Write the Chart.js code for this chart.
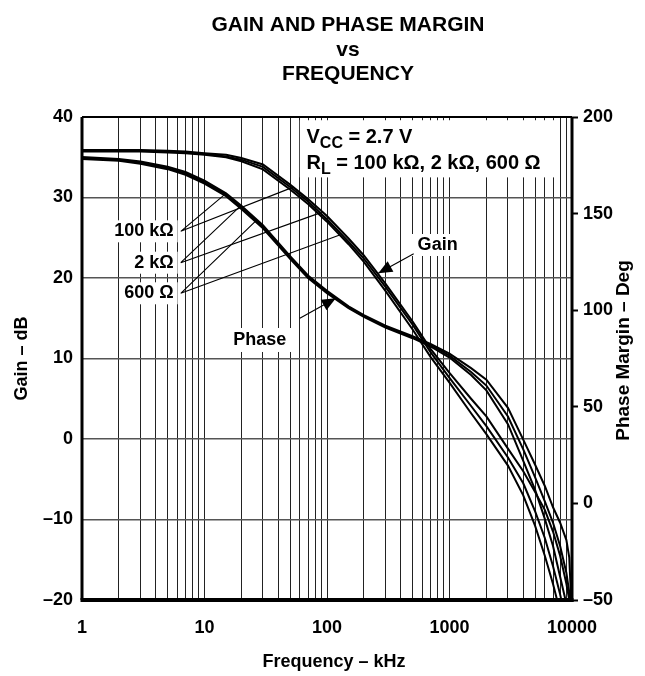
<!DOCTYPE html>
<html>
<head>
<meta charset="utf-8">
<title>Gain and Phase Margin vs Frequency</title>
<script src="https://cdn.jsdelivr.net/npm/chart.js@4.4.1/dist/chart.umd.min.js"></script>
<style>
html,body{margin:0;padding:0;background:#fff}
canvas{display:block}
</style>
</head>
<body>
<canvas id="gpChart" width="645" height="676"></canvas>
<script>
// ── Data ──
const freqKHz   = [1, 2, 3, 5, 7, 10, 15, 20, 30, 50, 70, 100, 150, 200, 300, 500, 700, 1000, 1500, 2000, 3000, 4000, 5000, 6000, 7000, 8000, 9000, 9500, 10000];

// gain, dB (left axis)
const gain100k  = [35.9, 35.9, 35.9, 35.8, 35.7, 35.5, 35.3, 34.9, 34.1, 31.6, 29.8, 27.7, 24.9, 22.8, 19.3, 14.6, 11.2, 8.2, 5.0, 2.8, -1.2, -4.0, -6.6, -8.8, -11.5, -14.5, -18.0, -20.0, -22.0];
const gain2k    = [35.8, 35.8, 35.8, 35.7, 35.6, 35.4, 35.1, 34.7, 33.8, 31.3, 29.5, 27.3, 24.5, 22.4, 18.9, 14.2, 10.8, 7.6, 4.1, 1.6, -2.3, -5.5, -9.0, -12.3, -15.8, -19.3, -22.8, -24.5, -26.0];
const gain600   = [35.7, 35.7, 35.7, 35.6, 35.5, 35.3, 35.0, 34.5, 33.5, 31.0, 29.2, 27.0, 24.2, 22.0, 18.4, 13.6, 10.2, 7.0, 3.2, 0.6, -3.3, -7.0, -10.8, -14.5, -18.0, -21.5, -25.0, -27.0, -29.0];

// phase margin, deg (right axis)
const phase100k = [179.3, 178.3, 177.0, 174.3, 171.5, 167.0, 160.5, 154.0, 144.0, 128.0, 118.0, 110.0, 102.0, 97.5, 92.0, 86.5, 82.5, 77.5, 70.0, 64.0, 49.5, 33.0, 20.0, 9.0, -2.0, -10.0, -19.0, -28.0, -60.0];
const phase2k   = [178.8, 177.8, 176.4, 173.6, 170.8, 166.2, 159.8, 153.2, 143.2, 127.3, 117.3, 109.4, 101.5, 97.0, 91.5, 86.0, 82.0, 76.5, 68.0, 61.0, 45.0, 28.0, 13.5, 1.0, -10.0, -22.0, -36.0, -46.0, -60.0];
const phase600  = [178.3, 177.3, 175.8, 173.0, 170.1, 165.5, 159.0, 152.4, 142.4, 126.6, 116.6, 108.8, 101.0, 96.5, 91.0, 85.5, 81.3, 75.5, 66.5, 58.5, 41.0, 22.0, 7.0, -8.0, -22.0, -38.0, -52.0, -58.0, -65.0];

// axes
const xTickLabels = [1, 10, 100, 1000, 10000];
const gainRange   = [-20, 40];
const phaseRange  = [-50, 200];

const titleLines = ['GAIN AND PHASE MARGIN', 'vs', 'FREQUENCY'];

// ── Helpers ──
const FONT = "'Liberation Sans', Arial, Helvetica, sans-serif";
const pts = arr => freqKHz.map((f,i)=>({x:f,y:arr[i]}));
function valueAt(arr,f){
  for(let i=0;i<freqKHz.length-1;i++){
    if(f>=freqKHz[i]&&f<=freqKHz[i+1]){
      const t=(Math.log(f)-Math.log(freqKHz[i]))/(Math.log(freqKHz[i+1])-Math.log(freqKHz[i]));
      return arr[i]+t*(arr[i+1]-arr[i]);
    }
  }
  return arr[arr.length-1];
}
// every 1..9 x decade for the vertical grid
const xGrid=[];
for(let d=1;d<10000;d*=10){ for(let m=1;m<10;m++) xGrid.push(m*d); }
xGrid.push(10000);

// annotation anchors (freq kHz / gain dB)
const leaders=[
  {label:'100 k\u03A9', dB:25.8, pF:15,  pArr:phase100k, gF:53,  gArr:gain100k},
  {label:'2 k\u03A9',   dB:21.9, pF:19.5,pArr:phase2k,   gF:88,  gArr:gain2k},
  {label:'600 \u03A9',  dB:18.1, pF:26,  pArr:phase600,  gF:127, gArr:gain600},
];

function arrow(ctx,x1,y1,x2,y2){
  ctx.beginPath();ctx.moveTo(x1,y1);ctx.lineTo(x2,y2);ctx.stroke();
  const a=Math.atan2(y2-y1,x2-x1),L=14,W=6;
  const bx=x2-L*Math.cos(a),by=y2-L*Math.sin(a);
  ctx.beginPath();
  ctx.moveTo(x2,y2);
  ctx.lineTo(bx+W*Math.sin(a),by-W*Math.cos(a));
  ctx.lineTo(bx-W*Math.sin(a),by+W*Math.cos(a));
  ctx.closePath();ctx.fill();
}

function subText(ctx,x,y,parts){
  // parts: [text, isSub]
  let cx=x;
  parts.forEach(([t,sub])=>{
    ctx.font=sub?'bold 16px '+FONT:'bold 20px '+FONT;
    ctx.fillText(t,cx,sub?y+5:y);
    cx+=ctx.measureText(t).width;
  });
}

const annotPlugin={
  id:'annot',
  beforeDatasetsDraw(chart){
    const {ctx,scales:{x,y}}=chart;
    ctx.save();
    ctx.fillStyle='#fff';
    // condition box
    ctx.fillRect(x.getPixelForValue(60),y.getPixelForValue(39.6),x.getPixelForValue(7900)-x.getPixelForValue(60),y.getPixelForValue(32.5)-y.getPixelForValue(39.6));
    // label boxes
    ctx.font='bold 18px '+FONT;
    leaders.forEach(l=>{
      const w=ctx.measureText(l.label).width;
      const rx=x.getPixelForValue(5.6),cy=y.getPixelForValue(l.dB);
      ctx.fillRect(rx-w-4,cy-11,w+8,22);
    });
    const gx=x.getPixelForValue(800),gy=y.getPixelForValue(24.1);
    ctx.fillRect(gx-26,gy-11,52,22);
    const px=x.getPixelForValue(28.3),py=y.getPixelForValue(12.3);
    ctx.fillRect(px-34,py-12,68,24);
    ctx.restore();
  },
  afterDatasetsDraw(chart){
    const {ctx,scales:{x,y,y2}}=chart;
    ctx.save();
    ctx.strokeStyle='#000';ctx.fillStyle='#000';ctx.lineWidth=1.1;
    // leader lines from load labels to both curve groups
    leaders.forEach(l=>{
      const sx=x.getPixelForValue(6.4),sy=y.getPixelForValue(l.dB);
      const p=[x.getPixelForValue(l.pF),y2.getPixelForValue(valueAt(l.pArr,l.pF))];
      const g=[x.getPixelForValue(l.gF),y.getPixelForValue(valueAt(l.gArr,l.gF))];
      ctx.beginPath();
      ctx.moveTo(sx,sy);ctx.lineTo(p[0],p[1]);
      ctx.moveTo(sx,sy);ctx.lineTo(g[0],g[1]);
      ctx.stroke();
    });
    // Gain / Phase arrows
    arrow(ctx,x.getPixelForValue(510),y.getPixelForValue(23.0),x.getPixelForValue(262),y.getPixelForValue(valueAt(gain100k,262))-1);
    arrow(ctx,x.getPixelForValue(60),y.getPixelForValue(15.0),x.getPixelForValue(118),y2.getPixelForValue(valueAt(phase100k,118))+1);

    // texts
    ctx.textBaseline='middle';
    ctx.font='bold 18px '+FONT;
    ctx.textAlign='right';
    leaders.forEach(l=>ctx.fillText(l.label,x.getPixelForValue(5.6),y.getPixelForValue(l.dB)));
    ctx.textAlign='center';
    ctx.fillText('Gain',x.getPixelForValue(800),y.getPixelForValue(24.1));
    ctx.fillText('Phase',x.getPixelForValue(28.3),y.getPixelForValue(12.3));

    ctx.textAlign='left';ctx.textBaseline='alphabetic';
    const tx=x.getPixelForValue(68);
    subText(ctx,tx,y.getPixelForValue(36.8),[['V',0],['CC',1],[' = 2.7 V',0]]);
    subText(ctx,tx,y.getPixelForValue(33.6),[['R',0],['L',1],[' = 100 k\u03A9, 2 k\u03A9, 600 \u03A9',0]]);
    ctx.restore();
  },
  afterDraw(chart){
    const {ctx,chartArea:a}=chart;
    ctx.save();
    // frame
    ctx.strokeStyle='#000';
    ctx.lineWidth=2;ctx.beginPath();ctx.moveTo(a.left,a.top);ctx.lineTo(a.right,a.top);ctx.stroke();
    ctx.lineWidth=3;ctx.beginPath();ctx.moveTo(a.left,a.top);ctx.lineTo(a.left,a.bottom);ctx.moveTo(a.right,a.top);ctx.lineTo(a.right,a.bottom+2);ctx.stroke();
    ctx.lineWidth=4;ctx.beginPath();ctx.moveTo(a.left-1.5,a.bottom);ctx.lineTo(a.right+1.5,a.bottom);ctx.stroke();
    // title
    ctx.fillStyle='#000';ctx.textAlign='center';ctx.textBaseline='middle';
    ctx.font='bold 21px '+FONT;
    ctx.fillText(titleLines[0],348,25);
    ctx.fillText(titleLines[1],348,50);
    ctx.fillText(titleLines[2],348,74);
    // axis titles
    ctx.font='bold 18px '+FONT;
    ctx.fillText('Frequency \u2013 kHz',334,662);
    ctx.translate(22,(a.top+a.bottom)/2);ctx.rotate(-Math.PI/2);
    ctx.fillText('Gain \u2013 dB',0,0);
    ctx.setTransform(1,0,0,1,0,0);
    ctx.font='bold 19px '+FONT;
    ctx.translate(624,(a.top+a.bottom)/2-8);ctx.rotate(-Math.PI/2);
    ctx.fillText('Phase Margin \u2013 Deg',0,0);
    ctx.restore();
  }
};

const lineStyle={borderColor:'#000',borderWidth:2,pointRadius:0,tension:0,fill:false};
const tickFont={family:FONT,size:18,weight:'bold'};
const dash=v=>String(v).replace('-','\u2013');

new Chart(document.getElementById('gpChart'),{
  type:'line',
  data:{datasets:[
    {label:'Gain 100k',data:pts(gain100k),yAxisID:'y',...lineStyle},
    {label:'Gain 2k',data:pts(gain2k),yAxisID:'y',...lineStyle},
    {label:'Gain 600',data:pts(gain600),yAxisID:'y',...lineStyle},
    {label:'Phase 100k',data:pts(phase100k),yAxisID:'y2',...lineStyle},
    {label:'Phase 2k',data:pts(phase2k),yAxisID:'y2',...lineStyle},
    {label:'Phase 600',data:pts(phase600),yAxisID:'y2',...lineStyle},
  ]},
  options:{
    responsive:false,animation:false,devicePixelRatio:1,
    layout:{padding:{top:117,left:0,right:0,bottom:0}},
    plugins:{legend:{display:false},tooltip:{enabled:false},title:{display:false}},
    scales:{
      x:{type:'logarithmic',min:1,max:10000,
        afterBuildTicks:s=>{s.ticks=xGrid.map(v=>({value:v}));},
        afterFit:s=>{s.height=76;},
        grid:{color:'#222',lineWidth:1,drawTicks:false},
        border:{display:false},
        ticks:{autoSkip:false,maxRotation:0,padding:17,color:'#000',font:tickFont,
          callback:v=>xTickLabels.includes(v)?String(v):''}},
      y:{position:'left',min:gainRange[0],max:gainRange[1],
        afterFit:s=>{s.width=82;},
        grid:{color:'#555',lineWidth:1.5,drawTicks:false},
        border:{display:false},
        ticks:{stepSize:10,padding:9,color:'#000',font:tickFont,callback:dash}},
      y2:{position:'right',min:phaseRange[0],max:phaseRange[1],
        afterFit:s=>{s.width=73;},
        grid:{drawOnChartArea:false,drawTicks:true,tickLength:6,tickColor:'#000',tickWidth:2},
        border:{display:false},
        ticks:{stepSize:50,padding:5,color:'#000',font:tickFont,callback:dash}}
    }
  },
  plugins:[annotPlugin]
});
</script>
</body>
</html>
